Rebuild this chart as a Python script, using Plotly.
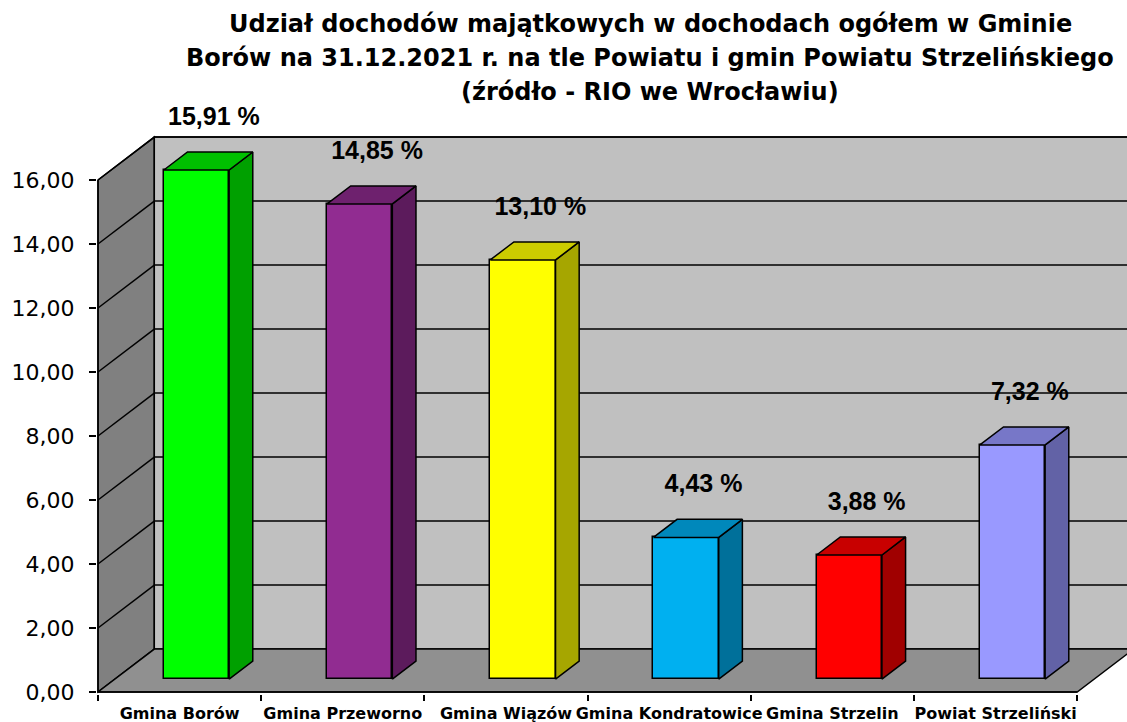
import plotly.graph_objects as go

# ---------------- data ----------------
categories = ["Gmina Borów", "Gmina Przeworno", "Gmina Wiązów",
              "Gmina Kondratowice", "Gmina Strzelin", "Powiat Strzeliński"]
values = [15.91, 14.85, 13.10, 4.43, 3.88, 7.32]

front_colors = ["#00FF00", "#912C91", "#FFFF00", "#00B0F0", "#FF0000", "#9999FF"]
top_colors = ["#00C000", "#6E216E", "#CCCC00", "#0088BB", "#C80000", "#7777C8"]
side_colors = ["#00A000", "#5C1B5C", "#A6A600", "#00709A", "#A00000", "#6262A6"]

y_tick_values = [0, 2, 4, 6, 8, 10, 12, 14, 16]
y_tick_labels = [f"{v:.2f}".replace(".", ",") for v in y_tick_values]
value_labels = [f"{v:.2f}".replace(".", ",") + " %" for v in values]

title_lines = ["Udział dochodów majątkowych w dochodach ogółem w Gminie",
               "Borów na 31.12.2021 r. na tle Powiatu i gmin Powiatu Strzelińskiego",
               "(źródło - RIO we Wrocławiu)"]

# ---------------- 3D geometry (axis units) ----------------
DX, DY = 0.345, 1.34          # full depth of the 3D box
F0, F1 = 0.30, 0.72           # bar front / back depth fractions
HALF = 0.2                    # half bar width
WALL_TOP = max(y_tick_values)
n = len(categories)
X0, X1 = -0.5, n - 0.5

PXX, PXY = 163.2, 32.0        # pixels per unit
L, R, T, B = 97, 0, 0, 28
W, H = 1127, 722
xr0 = -0.5 - 1 / PXX
xr = [xr0, xr0 + (W - L - R) / PXX]
yr0 = -2 / PXY
yr = [yr0, yr0 + (H - T - B) / PXY]
PLOT_H = H - T - B

FONT = "Liberation Sans, Arial, sans-serif"
WIDE = "DejaVu Sans, Verdana, sans-serif"
EDGE = dict(color="black", width=1.5)

shapes = []
# left wall
shapes.append(dict(type="path", layer="below", xref="x", yref="y",
                   path=f"M {X0},0 L {X0+DX},{DY} L {X0+DX},{WALL_TOP+DY} L {X0},{WALL_TOP} Z",
                   fillcolor="#808080", line=EDGE))
# back wall
shapes.append(dict(type="path", layer="below", xref="x", yref="y",
                   path=f"M {X0+DX},{DY} L {X1+DX},{DY} L {X1+DX},{WALL_TOP+DY} L {X0+DX},{WALL_TOP+DY} Z",
                   fillcolor="#C0C0C0", line=EDGE))
# floor
shapes.append(dict(type="path", layer="below", xref="x", yref="y",
                   path=f"M {X0},0 L {X1},0 L {X1+DX},{DY} L {X0+DX},{DY} Z",
                   fillcolor="#909090", line=EDGE))
# gridlines
for v in y_tick_values[1:]:
    shapes.append(dict(type="line", layer="below", xref="x", yref="y",
                       x0=X0 + DX, y0=v + DY, x1=X1 + DX, y1=v + DY, line=EDGE))
    shapes.append(dict(type="line", layer="below", xref="x", yref="y",
                       x0=X0, y0=v, x1=X0 + DX, y1=v + DY, line=EDGE))
# axis lines
shapes.append(dict(type="line", layer="above", xref="x", yref="y",
                   x0=X0, y0=0, x1=X0, y1=WALL_TOP, line=EDGE))
shapes.append(dict(type="line", layer="above", xref="x", yref="y",
                   x0=X0, y0=0, x1=X1, y1=0, line=EDGE))

fig = go.Figure()

# front faces
fig.add_trace(go.Bar(
    x=[i + F0 * DX for i in range(n)], y=values, base=F0 * DY, width=2 * HALF,
    marker=dict(color=front_colors, line=EDGE), showlegend=False, hoverinfo="skip"))

# side and top faces
for i, v in enumerate(values):
    fx, fy = i + F0 * DX, F0 * DY
    bx, by = i + F1 * DX, F1 * DY
    fig.add_trace(go.Scatter(
        x=[fx + HALF, bx + HALF, bx + HALF, fx + HALF, fx + HALF],
        y=[fy, by, by + v, fy + v, fy],
        mode="lines", fill="toself", fillcolor=side_colors[i],
        line=EDGE, showlegend=False, hoverinfo="skip"))
    fig.add_trace(go.Scatter(
        x=[fx - HALF, fx + HALF, bx + HALF, bx - HALF, fx - HALF],
        y=[fy + v, fy + v, by + v, by + v, fy + v],
        mode="lines", fill="toself", fillcolor=top_colors[i],
        line=EDGE, showlegend=False, hoverinfo="skip"))

# value labels
fig.add_trace(go.Scatter(
    x=[i + 0.21 for i in range(n)], y=[v + 2.0 for v in values],
    mode="text", text=value_labels,
    textfont=dict(family=FONT, size=25, color="black", weight="bold"),
    showlegend=False, hoverinfo="skip", cliponaxis=False))

# title lines
title_y_px = [24, 58, 92]
annotations = []
for line, ypx in zip(title_lines, title_y_px):
    annotations.append(dict(text=line, xref="paper", yref="paper",
                            x=(650 - L) / (W - L - R), y=1 - (ypx - T) / PLOT_H,
                            xanchor="center", yanchor="middle", showarrow=False,
                            font=dict(family=WIDE, size=24, color="black", weight="bold")))

fig.update_layout(
    width=W, height=H,
    margin=dict(l=L, r=R, t=T, b=B, autoexpand=False),
    paper_bgcolor="white", plot_bgcolor="white",
    shapes=shapes, annotations=annotations,
    xaxis=dict(range=xr, showgrid=False, zeroline=False, showline=False,
               tickmode="array", tickvals=list(range(n)), ticktext=categories, ticks="",
               tickfont=dict(family=WIDE, size=16, color="black", weight="bold"),
               ticklabelstandoff=8,
               minor=dict(tickmode="array", tickvals=[k - 0.5 for k in range(n + 1)],
                          ticks="outside", ticklen=6, tickwidth=1.5, tickcolor="black",
                          showgrid=False),
               automargin=False, fixedrange=True),
    yaxis=dict(range=yr, showgrid=False, zeroline=False, showline=False,
               tickmode="array", tickvals=y_tick_values, ticktext=y_tick_labels,
               ticks="outside", ticklen=7, tickwidth=1.5, tickcolor="black",
               tickfont=dict(family=WIDE, size=22, color="black"),
               ticklabelstandoff=10,
               automargin=False, fixedrange=True),
    bargap=0,
)

fig.write_html("out.html", config={"displayModeBar": False},
               post_script="document.body.style.margin='0';")
